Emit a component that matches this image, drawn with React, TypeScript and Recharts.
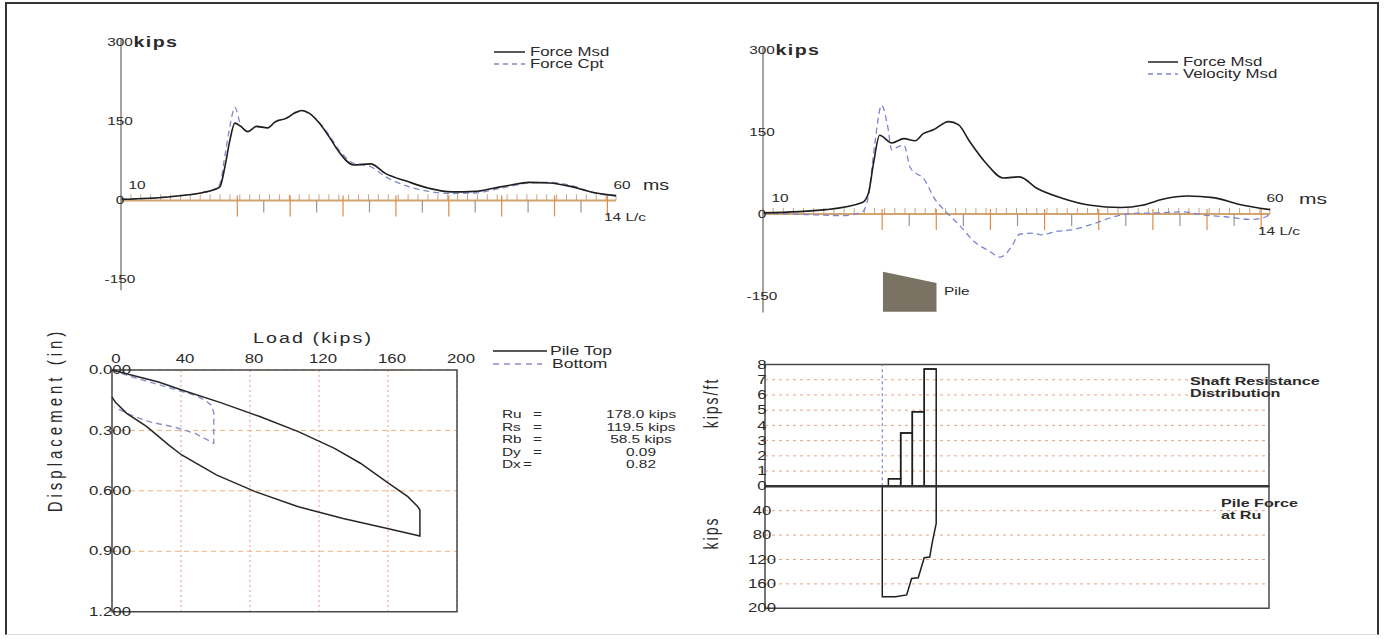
import React from 'react';
import {
  ComposedChart,
  Line,
  Area,
  XAxis,
  YAxis,
  ReferenceLine,
  ReferenceArea,
  CartesianGrid,
} from 'recharts';

const FONT = "'Liberation Sans', Arial, Helvetica, sans-serif";
const SX = 1.4;
const INK = '#2a2a2a';

// ---------- Top-left: Force Msd vs Force Cpt (kips vs ms) ----------
const timeA = [10, 15, 18.3, 19.4, 20, 20.5, 21, 21.5, 22.1, 22.8, 23.7, 24.8, 25.6, 26.7, 27.6, 28.3, 29, 29.9, 31, 32, 33.5, 35.2, 36.7, 38.9, 41.1, 43.4, 45.8, 47.6, 49.4, 51.2, 53.3, 55.5, 57.7, 60];
const forceMsdA = [2, 7, 15, 20, 26, 64, 114, 146, 140, 130, 140, 137, 149, 155, 166, 170, 165, 149, 121, 92, 67, 69, 51, 36, 23, 16, 17, 23, 29, 34, 33, 26, 15, 9];
const forceCptA = [2, 7, 15, 21, 32, 85, 140, 176, 142, 130, 139, 137, 148, 156, 165, 169, 164, 150, 124, 96, 70, 64, 45, 27, 17, 13, 14, 20, 27, 33, 34, 28, 15, 8];

// ---------- Top-right: Force Msd vs Velocity Msd ----------
const timeB = [10, 16.2, 19.8, 20.4, 20.9, 21.5, 22.7, 23.9, 25.0, 25.8, 26.8, 28.3, 29.3, 30.3, 32.0, 33.7, 35.3, 37.0, 39.5, 42.3, 45.3, 47.4, 49.4, 51.9, 54.4, 56.9, 60];
const forceMsdB = [2, 8, 21, 38, 93, 144, 130, 138, 134, 147, 154, 169, 163, 135, 93, 66, 68, 47, 29, 16, 12, 16, 27, 33, 30, 18, 8];
const velTime = [10, 14.2, 17.9, 19.8, 20.4, 21.0, 21.7, 22.3, 22.7, 23.3, 23.9, 24.5, 25.1, 25.7, 27.0, 28.2, 29.5, 30.7, 32.4, 33.4, 34.5, 35.3, 36.6, 37.4, 38.9, 40.4, 42.9, 44.6, 46.3, 48.8, 51.4, 53.5, 55.6, 58.2, 59.6, 60];
const velocityMsd = [2, -1, -3, 4, 33, 125, 199, 160, 117, 123, 126, 86, 74, 68, 26, 1, -23, -48, -69, -79, -60, -37, -35, -38, -32, -29, -16, -5, 1, 2, 4, -2, -5, -10, -5, 0];
const pileIconTime = [21.83, 27.11];
const pileIconTop = [-105.5, -126];
const pileIconBottom = [-178.7, -178.7];

// L/c markers on the time axis
const lcStart = 21.75;
const lcStep = 2.67;
const lcCount = 14;
const forceTicks = [-150, 0, 150, 300];

// ---------- Bottom-left: Load (kips) vs Displacement (in) ----------
const loadTop = [0, 10, 27, 40, 63, 86, 108, 129, 144, 159, 171.5, 177.3, 178.5, 178.5, 159, 134, 108, 83, 60.5, 40.4, 32.8, 20.2, 8.5, 2, 0];
const dispTop = [0, 0.022, 0.06, 0.098, 0.162, 0.232, 0.306, 0.389, 0.463, 0.554, 0.629, 0.679, 0.695, 0.824, 0.786, 0.737, 0.679, 0.604, 0.521, 0.422, 0.372, 0.281, 0.215, 0.16, 0.135];
const loadBottom = [0, 10, 28, 48, 54, 57.5, 59, 59, 48, 35, 23, 16, 10, 4, 1.5];
const dispBottom = [0, 0.03, 0.075, 0.125, 0.15, 0.175, 0.21, 0.364, 0.314, 0.281, 0.26, 0.24, 0.22, 0.195, 0.185];
const loadTicks = [0, 40, 80, 120, 160, 200];
const dispTicks = [0, 0.3, 0.6, 0.9, 1.2];
const resultLabels = ['Ru', 'Rs', 'Rb', 'Dy', 'Dx'];
const resultValues = ['178.0 kips', '119.5 kips', '58.5 kips', '0.09', '0.82'];

// ---------- Bottom-right: Shaft resistance distribution & pile force ----------
const shaftStart = [24.48, 26.92, 29.23, 31.6];
const shaftEnd = [26.92, 29.23, 31.6, 33.97];
const shaftRes = [0.5, 3.5, 4.9, 7.7];
const toePos = 23.27;
const forcePos = [23.27, 23.27, 25.93, 28.11, 29.09, 30.4, 31.59, 32.68, 33.21, 33.97, 33.97];
const pileForce = [0, 181, 181, 178, 151, 150, 117, 116, 91, 61, 0];
const shaftTicks = [0, 1, 2, 3, 4, 5, 6, 7, 8];
const pileForceTicks = [40, 80, 120, 160, 200];

// ---------- derived series ----------
const msdA = timeA.map((t, i) => ({ t, v: forceMsdA[i] }));
const cptA = timeA.map((t, i) => ({ t, v: forceCptA[i] }));
const msdB = timeB.map((t, i) => ({ t, v: forceMsdB[i] }));
const velB = velTime.map((t, i) => ({ t, v: velocityMsd[i] }));
const pileIcon = pileIconTime.map((t, i) => ({ t, range: [pileIconBottom[i], pileIconTop[i]] }));
const msTicks = Array.from({ length: 51 }, (_, i) => 10 + i);
const lcTicks = Array.from({ length: lcCount + 1 }, (_, k) => lcStart + k * lcStep);
const topCurve = loadTop.map((load, i) => ({ load, disp: dispTop[i] }));
const bottomCurve = loadBottom.map((load, i) => ({ load, disp: dispBottom[i] }));
const forceCurve = forcePos.map((x, i) => ({ x, f: pileForce[i] }));
const shaftSteps = [
  ...shaftStart.map((x, i) => ({ x, v: shaftRes[i] })),
  { x: shaftEnd[shaftEnd.length - 1], v: shaftRes[shaftRes.length - 1] },
];

// ---------- helpers ----------
type TProps = {
  x: number;
  y: number;
  children: React.ReactNode;
  size?: number;
  anchor?: 'start' | 'middle';
  bold?: boolean;
  spacing?: number;
  rotate?: boolean;
};
function T({ x, y, children, size = 11, anchor = 'start', bold = false, spacing = 0, rotate = false }: TProps) {
  const tf = rotate
    ? `scaleX(${SX}) rotate(-90deg) translate(-50%, -50%)`
    : `scaleX(${SX}) translate(${anchor === 'middle' ? -50 : 0}%, -50%)`;
  return (
    <div
      style={{
        position: 'absolute',
        left: x,
        top: y,
        transformOrigin: '0 0',
        transform: tf,
        fontFamily: FONT,
        fontSize: size,
        fontWeight: bold ? 700 : 400,
        letterSpacing: spacing,
        whiteSpace: 'nowrap',
        lineHeight: 1,
        color: INK,
      }}
    >
      {children}
    </div>
  );
}

function Swatch({ x1, x2, y, color, dash }: { x1: number; x2: number; y: number; color: string; dash?: string }) {
  return (
    <svg style={{ position: 'absolute', left: x1, top: y - 2, overflow: 'visible' }} width={x2 - x1} height={4}>
      <line x1={0} y1={2} x2={x2 - x1} y2={2} stroke={color} strokeWidth={1.5} strokeDasharray={dash} />
    </svg>
  );
}

const CenterTick = (p: any) => {
  const { x, y, payload, dx = 0, dy = 0, size = 11, fmt, unitAt, unit } = p;
  const label = fmt ? fmt(payload.value) : String(payload.value);
  if (unit && payload.value === unitAt) {
    const half = (label.length * 0.556 * size) / 2;
    return (
      <text
        transform={`translate(${x + dx},${y + dy}) scale(${SX},1)`}
        dominantBaseline="central"
        fontSize={size}
        fontFamily={FONT}
        fill={INK}
      >
        <tspan x={-half}>{label}</tspan>
        <tspan dx={0.5} fontSize={14} fontWeight={700} letterSpacing={1}>{unit}</tspan>
      </text>
    );
  }
  return (
    <text
      transform={`translate(${x + dx},${y + dy}) scale(${SX},1)`}
      textAnchor="middle"
      dominantBaseline="central"
      fontSize={size}
      fontFamily={FONT}
      fill={INK}
    >
      {label}
    </text>
  );
};

const timeMarks = (kipPerPx: number) => [
  ...msTicks.map((t) => (
    <ReferenceLine key={'ms' + t} segment={[{ x: t, y: 0 }, { x: t, y: 6 * kipPerPx }]} stroke="#c9a282" strokeWidth={1} />
  )),
  ...lcTicks.map((t, k) => (
    <ReferenceLine
      key={'lc' + k}
      segment={[
        { x: t, y: (k % 2 === 0 ? 5 : 0) * kipPerPx },
        { x: t, y: -(k % 2 === 0 ? 16 : 12) * kipPerPx },
      ]}
      stroke={k % 2 === 0 ? '#e0894a' : '#9c958e'}
      strokeWidth={1.2}
    />
  )),
];

export default function App() {
  return (
    <div style={{ position: 'absolute', left: 0, top: 0, width: 1385, height: 639, background: '#fff', overflow: 'hidden' }}>
      {/* outer frame */}
      <div style={{ position: 'absolute', left: 5, top: 2, width: 1374, height: 633, borderTop: '2px solid #333', borderLeft: '2px solid #333', borderRight: '2px solid #333', borderBottom: '1px solid #ddd', boxSizing: 'border-box' }} />

      {/* ===== Top-left chart ===== */}
      <div style={{ position: 'absolute', left: 60, top: 20 }}>
        <ComposedChart width={620} height={290} margin={{ top: 18, right: 64, bottom: 19.7, left: 60 }}>
          <XAxis type="number" dataKey="t" domain={[10, 60]} hide allowDataOverflow />
          <YAxis
            type="number"
            domain={[-170, 307]}
            ticks={forceTicks}
            interval={0}
            width={1}
            tickSize={0}
            tickMargin={0}
            tickLine={false}
            axisLine={{ stroke: '#8d8478', strokeWidth: 1.5 }}
            tick={(p: any) => <CenterTick {...p} dx={-1} unit="kips" unitAt={300} />}
            allowDataOverflow
          />
          <ReferenceLine y={0} stroke="#d4a46e" strokeWidth={2} />
          {timeMarks(1 / 0.529)}
          <Line data={cptA} dataKey="v" type="monotone" stroke="#8088c8" strokeWidth={1.3} strokeDasharray="6 4" dot={false} isAnimationActive={false} />
          <Line data={msdA} dataKey="v" type="monotone" stroke="#1e1e1e" strokeWidth={1.6} dot={false} isAnimationActive={false} />
        </ComposedChart>
      </div>
      <T x={137} y={185} anchor="middle">10</T>
      <T x={621.5} y={185} anchor="middle">60</T>
      <T x={655.5} y={185} anchor="middle" size={14}>ms</T>
      <T x={625} y={216.5} anchor="middle">14 L/c</T>
      <Swatch x1={494} x2={525} y={51.7} color="#222" />
      <T x={530} y={51.7} size={12}>Force Msd</T>
      <Swatch x1={494} x2={525} y={64.3} color="#8088c8" dash="5 4" />
      <T x={530} y={64.3} size={12}>Force Cpt</T>

      {/* ===== Top-right chart ===== */}
      <div style={{ position: 'absolute', left: 700, top: 30 }}>
        <ComposedChart width={640} height={300} margin={{ top: 17.3, right: 70, bottom: 17.6, left: 62 }}>
          <XAxis type="number" dataKey="t" domain={[10, 60]} hide allowDataOverflow />
          <YAxis
            type="number"
            domain={[-180, 305]}
            ticks={forceTicks}
            interval={0}
            width={1}
            tickSize={0}
            tickMargin={0}
            tickLine={false}
            axisLine={{ stroke: '#8d8478', strokeWidth: 1.5 }}
            tick={(p: any) => <CenterTick {...p} dx={-1} unit="kips" unitAt={300} />}
            allowDataOverflow
          />
          <Area data={pileIcon} dataKey="range" type="linear" stroke="none" fill="#7a7363" fillOpacity={1} isAnimationActive={false} />
          <ReferenceLine y={0} stroke="#d4a46e" strokeWidth={2} />
          {timeMarks(1 / 0.5467)}
          <Line data={velB} dataKey="v" type="monotone" stroke="#7c86d0" strokeWidth={1.3} strokeDasharray="6 4" dot={false} isAnimationActive={false} />
          <Line data={msdB} dataKey="v" type="monotone" stroke="#1e1e1e" strokeWidth={1.6} dot={false} isAnimationActive={false} />
        </ComposedChart>
      </div>
      <T x={779.5} y={198} anchor="middle">10</T>
      <T x={1274.5} y={198} anchor="middle">60</T>
      <T x={1312.5} y={198} anchor="middle" size={15}>ms</T>
      <T x={1278.5} y={231} anchor="middle">14 L/c</T>
      <Swatch x1={1148} x2={1178} y={61.7} color="#222" />
      <T x={1183} y={61.7} size={12}>Force Msd</T>
      <Swatch x1={1148} x2={1178} y={74} color="#7c86d0" dash="5 4" />
      <T x={1183} y={74} size={12}>Velocity Msd</T>
      <T x={944} y={290.7} size={11}>Pile</T>

      {/* ===== Bottom-left chart ===== */}
      <div style={{ position: 'absolute', left: 60, top: 330 }}>
        <ComposedChart width={420} height={300} margin={{ top: 39, right: 23, bottom: 18.3, left: 51 }}>
          <CartesianGrid horizontal={false} stroke="#e79a9a" strokeDasharray="2 3" />
          <CartesianGrid vertical={false} stroke="#eeb27a" strokeDasharray="5 4" />
          <XAxis
            type="number"
            dataKey="load"
            domain={[0, 200]}
            ticks={loadTicks}
            interval={0}
            orientation="top"
            height={1}
            tickSize={0}
            tickMargin={0}
            axisLine={false}
            tickLine={false}
            tick={(p: any) => <CenterTick {...p} dx={4} dy={-11} size={12} />}
          />
          <YAxis
            type="number"
            domain={[0, 1.2]}
            reversed
            ticks={dispTicks}
            interval={0}
            width={1}
            tickSize={0}
            tickMargin={0}
            axisLine={false}
            tickLine={false}
            tick={(p: any) => <CenterTick {...p} dx={-2} size={12} fmt={(v: number) => v.toFixed(3)} />}
          />
          <ReferenceArea x1={0} x2={200} y1={0} y2={1.2} fill="none" stroke="#4a4a4a" strokeWidth={1.5} />
          <Line data={bottomCurve} dataKey="disp" type="linear" stroke="#8c90c8" strokeWidth={1.4} strokeDasharray="6 4" dot={false} isAnimationActive={false} />
          <Line data={topCurve} dataKey="disp" type="linear" stroke="#262626" strokeWidth={1.5} dot={false} isAnimationActive={false} />
        </ComposedChart>
      </div>
      <T x={313} y={338} anchor="middle" size={14} spacing={1.5}>Load (kips)</T>
      <T x={54} y={420} size={15} spacing={4} rotate>Displacement (in)</T>
      <Swatch x1={493} x2={547} y={350.5} color="#222" />
      <T x={550} y={350.5} size={12.5}>Pile Top</T>
      <Swatch x1={493} x2={542} y={364} color="#8c90c8" dash="6 5" />
      <T x={552} y={364} size={12.5}>Bottom</T>
      {resultLabels.map((lab, i) => (
        <React.Fragment key={lab}>
          <T x={502} y={414 + i * 12.6}>{lab}</T>
          <T x={lab === 'Dx' ? 523 : 533} y={414 + i * 12.6}>=</T>
          <T x={641} y={414 + i * 12.6} anchor="middle">{resultValues[i]}</T>
        </React.Fragment>
      ))}

      {/* ===== Bottom-right: pile force at Ru (lower) ===== */}
      <div style={{ position: 'absolute', left: 700, top: 480 }}>
        <ComposedChart width={600} height={150} margin={{ top: 6.3, right: 31, bottom: 21.7, left: 64 }}>
          <CartesianGrid vertical={false} stroke="#e3a48c" strokeDasharray="3 4" />
          <XAxis type="number" dataKey="x" domain={[0, 100]} hide />
          <YAxis
            type="number"
            domain={[0, 200]}
            reversed
            ticks={pileForceTicks}
            interval={0}
            width={1}
            tickSize={0}
            tickMargin={0}
            axisLine={false}
            tickLine={false}
            tick={(p: any) => <CenterTick {...p} dx={-3} size={12} />}
          />
          <ReferenceArea x1={0} x2={100} y1={0} y2={200} fill="none" stroke="#4a4a4a" strokeWidth={1.5} />
          <Line data={forceCurve} dataKey="f" type="linear" stroke="#1e1e1e" strokeWidth={1.5} dot={false} isAnimationActive={false} />
        </ComposedChart>
      </div>

      {/* ===== Bottom-right: shaft resistance (upper) ===== */}
      <div style={{ position: 'absolute', left: 700, top: 340 }}>
        <ComposedChart width={600} height={160} margin={{ top: 24.5, right: 31, bottom: 13.7, left: 64 }}>
          <CartesianGrid vertical={false} stroke="#e3a48c" strokeDasharray="3 4" />
          <XAxis type="number" dataKey="x" domain={[0, 100]} hide />
          <YAxis
            type="number"
            domain={[0, 8]}
            ticks={shaftTicks}
            interval={0}
            width={1}
            tickSize={0}
            tickMargin={0}
            axisLine={false}
            tickLine={false}
            tick={(p: any) => <CenterTick {...p} dx={-3} size={12} />}
          />
          <ReferenceArea x1={0} x2={100} y1={0} y2={8} fill="none" stroke="#4a4a4a" strokeWidth={1.5} />
          <ReferenceLine x={toePos} stroke="#7c86d0" strokeDasharray="3 3" strokeWidth={1.2} />
          {shaftRes.map((v, i) => (
            <ReferenceArea key={'s' + i} x1={shaftStart[i]} x2={shaftEnd[i]} y1={0} y2={v} fill="none" stroke="#1e1e1e" strokeWidth={1.5} />
          ))}
          <Line data={shaftSteps} dataKey="v" type="stepAfter" stroke="#1e1e1e" strokeWidth={1.5} dot={false} isAnimationActive={false} />
          <ReferenceLine y={0} stroke="#333" strokeWidth={2.5} />
        </ComposedChart>
      </div>
      <T x={711} y={403} size={14} spacing={2} rotate>kips/ft</T>
      <T x={711} y={533} size={14} spacing={2} rotate>kips</T>
      <T x={1190} y={382} size={11.5} bold>Shaft Resistance</T>
      <T x={1190} y={394} size={11.5} bold>Distribution</T>
      <T x={1221} y={504} size={11.5} bold>Pile Force</T>
      <T x={1221} y={516} size={11.5} bold>at Ru</T>
    </div>
  );
}
